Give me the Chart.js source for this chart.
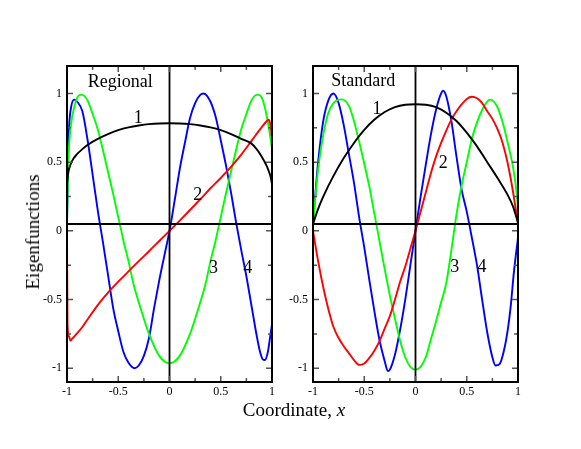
<!DOCTYPE html>
<html>
<head>
<meta charset="utf-8">
<script src="https://cdn.jsdelivr.net/npm/chart.js@4"></script>
<style>
  body { margin: 0; background: #fff; }
  #wrap { position: relative; width: 581px; height: 449px; font-family: "Liberation Serif", "DejaVu Serif", serif; }
  canvas { position: absolute; top: 0; }
  #left { left: 0; }
  #right { left: 280px; }
  .title { position: absolute; font-size: 19px; color: #000; white-space: nowrap; }
  #ytitle { left: 33px; top: 232px; transform: translate(-50%, -50%) rotate(-90deg); }
  #xtitle { left: 294px; top: 410px; transform: translate(-50%, -50%); }
</style>
</head>
<body>
<div id="wrap">
  <canvas id="left" width="290" height="449"></canvas>
  <canvas id="right" width="301" height="449"></canvas>
  <div class="title" id="ytitle">Eigenfunctions</div>
  <div class="title" id="xtitle">Coordinate, <i>x</i></div>
</div>
<script>
// axis ticks
const xTicks = [-1, -0.5, 0, 0.5, 1];
const xMinor = [-0.75, -0.25, 0.25, 0.75];
const yTicks = [-1, -0.5, 0, 0.5, 1];
const yMinor = [-0.75, -0.25, 0.25, 0.75];
const baseLevel = 0.05;

// Regional
const reg1X = [-1, -0.99, -0.98, -0.95, -0.9, -0.85, -0.8, -0.7, -0.6, -0.5, -0.4, -0.3, -0.2, -0.1, 0, 0.1, 0.2, 0.3, 0.4, 0.5, 0.6, 0.7, 0.8, 0.85, 0.9, 0.95, 0.98, 0.99, 1];
const reg1 = [0.34, 0.41, 0.45, 0.51, 0.56, 0.595, 0.625, 0.67, 0.705, 0.733, 0.753, 0.767, 0.777, 0.782, 0.783, 0.782, 0.777, 0.767, 0.753, 0.733, 0.705, 0.67, 0.635, 0.595, 0.54, 0.47, 0.41, 0.38, 0.34];

const reg2X = [-1, -0.995, -0.98, -0.965, -0.95, -0.93, -0.9, -0.85, -0.8, -0.7, -0.6, -0.5, -0.4, -0.3, -0.2, -0.1, 0, 0.1, 0.2, 0.3, 0.4, 0.5, 0.6, 0.7, 0.8, 0.9, 0.95, 0.97, 0.985, 1];
const reg2 = [0, -0.68, -0.77, -0.8, -0.785, -0.77, -0.745, -0.7, -0.645, -0.54, -0.45, -0.37, -0.295, -0.22, -0.148, -0.074, 0, 0.075, 0.152, 0.23, 0.31, 0.385, 0.465, 0.555, 0.655, 0.755, 0.8, 0.81, 0.77, 0.68];

const reg3X = [-1, -0.99, -0.98, -0.96, -0.93, -0.9, -0.87, -0.85, -0.8, -0.75, -0.7, -0.65, -0.6, -0.55, -0.5, -0.47, -0.45, -0.4, -0.35, -0.3, -0.25, -0.2, -0.1, 0, 0.1, 0.2, 0.25, 0.3, 0.35, 0.4, 0.45, 0.47, 0.5, 0.55, 0.6, 0.65, 0.7, 0.75, 0.8, 0.85, 0.87, 0.9, 0.93, 0.96, 0.98, 1];
const reg3 = [0.05, 0.45, 0.62, 0.78, 0.9, 0.97, 0.99, 0.99, 0.95, 0.85, 0.74, 0.59, 0.43, 0.27, 0.1, 0, -0.07, -0.22, -0.39, -0.52, -0.64, -0.75, -0.91, -0.964, -0.91, -0.75, -0.64, -0.52, -0.39, -0.22, -0.07, 0, 0.1, 0.27, 0.43, 0.59, 0.74, 0.85, 0.95, 0.99, 0.99, 0.97, 0.9, 0.79, 0.7, 0.6];

const reg4X = [-1, -0.99, -0.98, -0.96, -0.93, -0.9, -0.85, -0.8, -0.75, -0.7, -0.65, -0.6, -0.55, -0.5, -0.45, -0.4, -0.34, -0.3, -0.25, -0.2, -0.15, -0.1, -0.05, 0, 0.05, 0.1, 0.15, 0.2, 0.25, 0.3, 0.333, 0.4, 0.45, 0.5, 0.55, 0.6, 0.65, 0.7, 0.75, 0.8, 0.85, 0.88, 0.91, 0.93, 0.96, 0.98, 1];
const reg4 = [0.05, 0.5, 0.75, 0.9, 0.955, 0.94, 0.87, 0.665, 0.41, 0.15, -0.08, -0.32, -0.56, -0.73, -0.88, -0.96, -1.0, -0.98, -0.91, -0.78, -0.56, -0.36, -0.18, 0, 0.22, 0.45, 0.64, 0.82, 0.93, 0.99, 1.0, 0.94, 0.83, 0.66, 0.48, 0.28, 0.06, -0.14, -0.33, -0.545, -0.76, -0.87, -0.935, -0.94, -0.88, -0.78, -0.68];

// Standard
const std1X = [-1, -0.95, -0.9, -0.8, -0.7, -0.6, -0.5, -0.4, -0.3, -0.2, -0.1, 0, 0.1, 0.2, 0.3, 0.4, 0.5, 0.6, 0.7, 0.8, 0.9, 0.95, 1];
const std1 = [0.05, 0.16, 0.25, 0.4, 0.53, 0.64, 0.735, 0.81, 0.865, 0.9, 0.918, 0.922, 0.918, 0.9, 0.86, 0.8, 0.715, 0.615, 0.5, 0.385, 0.26, 0.18, 0.06];

const std2X = [-1, -0.95, -0.9, -0.85, -0.8, -0.75, -0.7, -0.65, -0.6, -0.55, -0.5, -0.45, -0.4, -0.35, -0.3, -0.25, -0.2, -0.15, -0.1, -0.05, 0, 0.05, 0.1, 0.15, 0.2, 0.25, 0.3, 0.35, 0.4, 0.45, 0.5, 0.55, 0.6, 0.65, 0.7, 0.75, 0.8, 0.85, 0.9, 0.95, 1];
const std2 = [0, -0.22, -0.41, -0.57, -0.7, -0.78, -0.84, -0.89, -0.94, -0.975, -0.965, -0.925, -0.87, -0.8, -0.71, -0.62, -0.5, -0.37, -0.26, -0.13, 0, 0.14, 0.28, 0.42, 0.54, 0.64, 0.73, 0.81, 0.87, 0.92, 0.96, 0.976, 0.965, 0.93, 0.87, 0.815, 0.74, 0.64, 0.49, 0.29, 0.05];

const std3X = [-1, -0.97, -0.95, -0.9, -0.85, -0.8, -0.75, -0.72, -0.65, -0.6, -0.55, -0.5, -0.45, -0.4, -0.35, -0.3, -0.25, -0.2, -0.15, -0.1, -0.05, 0, 0.05, 0.1, 0.15, 0.2, 0.25, 0.3, 0.35, 0.4, 0.45, 0.5, 0.55, 0.6, 0.65, 0.7, 0.73, 0.8, 0.85, 0.9, 0.95, 0.98, 1];
const std3 = [0.05, 0.3, 0.45, 0.7, 0.86, 0.93, 0.955, 0.957, 0.91, 0.8, 0.65, 0.49, 0.32, 0.12, -0.08, -0.28, -0.47, -0.64, -0.8, -0.92, -0.99, -1.01, -0.99, -0.92, -0.79, -0.66, -0.52, -0.38, -0.14, 0.12, 0.33, 0.5, 0.67, 0.79, 0.88, 0.94, 0.955, 0.9, 0.79, 0.64, 0.47, 0.32, 0.16];

const std4X = [-1, -0.97, -0.95, -0.9, -0.85, -0.8, -0.75, -0.7, -0.65, -0.6, -0.55, -0.5, -0.45, -0.4, -0.35, -0.3, -0.27, -0.25, -0.2, -0.15, -0.1, -0.05, 0, 0.05, 0.1, 0.15, 0.2, 0.25, 0.27, 0.3, 0.35, 0.4, 0.45, 0.5, 0.55, 0.6, 0.65, 0.7, 0.75, 0.78, 0.82, 0.86, 0.9, 0.93, 0.96, 1];
const std4 = [0.05, 0.33, 0.5, 0.8, 0.95, 1.0, 0.93, 0.77, 0.56, 0.35, 0.1, -0.12, -0.36, -0.59, -0.8, -0.95, -1.02, -1.01, -0.9, -0.72, -0.5, -0.25, 0, 0.25, 0.48, 0.7, 0.88, 1.0, 1.02, 0.98, 0.8, 0.54, 0.3, 0.14, -0.05, -0.25, -0.5, -0.74, -0.92, -0.98, -0.97, -0.88, -0.72, -0.54, -0.3, -0.05];

const FONT = '"Liberation Serif", "DejaVu Serif", serif';

function pts(xs, ys) {
  return xs.map((x, i) => ({ x, y: ys[i] }));
}

function curve(xs, ys, color) {
  return {
    data: pts(xs, ys),
    borderColor: color,
    borderWidth: 1.9,
    pointRadius: 0,
    cubicInterpolationMode: 'monotone',
    fill: false
  };
}

function straight(xs, ys) {
  return { data: pts(xs, ys), borderColor: '#000', borderWidth: 1.8, pointRadius: 0, tension: 0, fill: false };
}

// draws the box, inward ticks on all four sides and the text notes
function framePlugin(notes) {
  return {
    id: 'frame',
    afterDatasetsDraw(chart) {
      const { ctx, chartArea: a, scales: { x, y } } = chart;
      ctx.save();
      ctx.strokeStyle = '#555';
      ctx.lineWidth = 1.5;
      ctx.beginPath();
      const xt = (vals, len) => vals.forEach(v => {
        const px = x.getPixelForValue(v);
        ctx.moveTo(px, a.bottom); ctx.lineTo(px, a.bottom - len);
        ctx.moveTo(px, a.top); ctx.lineTo(px, a.top + len);
      });
      const yt = (vals, len) => vals.forEach(v => {
        const py = y.getPixelForValue(v);
        ctx.moveTo(a.left, py); ctx.lineTo(a.left + len, py);
        ctx.moveTo(a.right, py); ctx.lineTo(a.right - len, py);
      });
      xt(xTicks, 6); xt(xMinor, 4);
      yt(yTicks, 6); yt(yMinor, 4);
      ctx.stroke();

      ctx.strokeStyle = '#000';
      ctx.lineWidth = 2;
      ctx.strokeRect(a.left, a.top, a.width, a.height);

      ctx.fillStyle = '#000';
      ctx.font = '18px ' + FONT;
      ctx.textAlign = 'center';
      ctx.textBaseline = 'middle';
      notes.forEach(n => ctx.fillText(n.text, x.getPixelForValue(n.x), y.getPixelForValue(n.y)));
      ctx.restore();
    }
  };
}

function makeChart(id, series, notes, yWidth, padRight) {
  const datasets = [
    straight([-1, 1], [baseLevel, baseLevel]),
    straight([0, 0], [-1.1, 1.2])
  ].concat(series.map(s => curve(s[0], s[1], s[2])));

  return new Chart(document.getElementById(id), {
    type: 'line',
    data: { datasets },
    options: {
      responsive: false,
      animation: false,
      layout: { padding: { left: 0, top: 66, right: padRight, bottom: 0 } },
      plugins: { legend: { display: false }, tooltip: { enabled: false } },
      scales: {
        x: {
          type: 'linear', min: -1, max: 1,
          grid: { display: false, drawTicks: false },
          border: { display: false },
          afterBuildTicks: s => { s.ticks = xTicks.map(v => ({ value: v })); },
          afterFit: s => { s.height = 67; },
          ticks: { color: '#000', padding: 3, maxRotation: 0, font: { family: FONT, size: 12 }, callback: v => String(v) }
        },
        y: {
          type: 'linear', min: -1.1, max: 1.2,
          grid: { display: false, drawTicks: false },
          border: { display: false },
          afterBuildTicks: s => { s.ticks = yTicks.map(v => ({ value: v })); },
          afterFit: s => { s.width = yWidth; },
          ticks: { color: '#000', padding: 5, font: { family: FONT, size: 12 }, callback: v => String(v) }
        }
      }
    },
    plugins: [framePlugin(notes)]
  });
}

makeChart('left', [
  [reg1X, reg1, '#000000'],
  [reg2X, reg2, '#ff0000'],
  [reg3X, reg3, '#00ff00'],
  [reg4X, reg4, '#0000ff']
], [
  { text: 'Regional', x: -0.48, y: 1.083 },
  { text: '1', x: -0.305, y: 0.82 },
  { text: '2', x: 0.275, y: 0.26 },
  { text: '3', x: 0.43, y: -0.27 },
  { text: '4', x: 0.763, y: -0.27 }
], 67, 18);

makeChart('right', [
  [std1X, std1, '#000000'],
  [std2X, std2, '#ff0000'],
  [std3X, std3, '#00ff00'],
  [std4X, std4, '#0000ff']
], [
  { text: 'Standard', x: -0.509, y: 1.09 },
  { text: '1', x: -0.376, y: 0.883 },
  { text: '2', x: 0.271, y: 0.493 },
  { text: '3', x: 0.382, y: -0.264 },
  { text: '4', x: 0.649, y: -0.264 }
], 33, 63);
</script>
</body>
</html>
